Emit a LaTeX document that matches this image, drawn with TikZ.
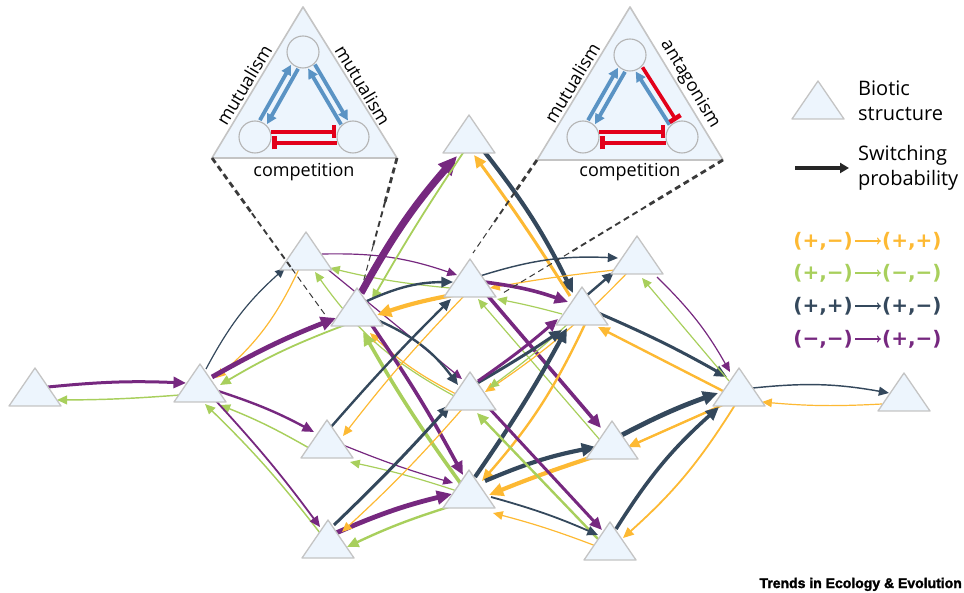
\documentclass[tikz,border=0pt]{standalone}
\usepackage{fontspec}
\setmainfont{Open Sans}
\newfontfamily\dvb{DejaVu Sans}
\newfontfamily\lib[FakeBold=1.8]{Liberation Sans}
\usetikzlibrary{arrows.meta,calc}
\definecolor{cO}{HTML}{FDB933}
\definecolor{cG}{HTML}{A8CF5C}
\definecolor{cD}{HTML}{34485C}
\definecolor{cP}{HTML}{76287F}
\definecolor{cB}{HTML}{5A93C4}
\definecolor{cR}{HTML}{E2001A}
\definecolor{triF}{HTML}{EDF5FD}
\definecolor{triB}{HTML}{C4C4C4}
\definecolor{cirB}{HTML}{B4B4B4}
\definecolor{dashC}{HTML}{3A3A3A}
\newcommand{\lgrow}[5]{%
  \node[anchor=east,text=#2,font=\dvb\bfseries\fontsize{20}{20}\selectfont,inner sep=0pt] (#5a) at (853,#1) {#3};
  \coordinate (#5b) at (855,#1); \coordinate (#5c) at (881,#1);
  \draw[#2,line width=1.1pt,-{To[length=4pt,width=7pt]}] (#5b) -- (#5c);
  \node[anchor=west,text=#2,font=\dvb\bfseries\fontsize{20}{20}\selectfont,inner sep=0pt] (#5d) at (882,#1) {#4};}
\begin{document}
\begin{tikzpicture}[x=1pt,y=-1pt,
  ar/.style={-{Triangle[length=8pt 1.5,width=7pt 1.35]}},
  eO/.style={draw=cO,line width={1.2*#1pt},ar},
  eG/.style={draw=cG,line width={1.2*#1pt},ar},
  eD/.style={draw=cD,line width={1.2*#1pt},ar},
  eP/.style={draw=cP,line width={1.2*#1pt},ar},
  tri/.pic={\draw[fill=triF,draw=triB,line width=1.3pt,line join=round] (-26,19) -- (0,-19) -- (26,19) -- cycle;},
  circ/.style={fill=triF,draw=cirB,line width=1.1pt},
  ba/.style={draw=cB,line width=3.8pt,-{Triangle[length=10pt,width=10pt]}},
  ra/.style={draw=cR,line width=3.6pt,-{Bar[width=13pt,line width=4.5pt]}},
  lab/.style={font=\fontsize{18}{18}\selectfont,inner sep=0pt},
  dsh/.style={draw=dashC,dash pattern=on 6pt off 4pt}]
\useasboundingbox (0,0) rectangle (964,593);
% node positions
\coordinate (A) at (35,387);
\coordinate (B) at (200,383);
\coordinate (C) at (306,251);
\coordinate (D) at (357,307);
\coordinate (E) at (469,134);
\coordinate (F) at (470,278);
\coordinate (G) at (582,306);
\coordinate (H) at (637,255);
\coordinate (I) at (739,387);
\coordinate (J) at (904,392);
\coordinate (K) at (612,440);
\coordinate (L) at (610,541);
\coordinate (M) at (470,391);
\coordinate (N) at (469,489);
\coordinate (O) at (327,439);
\coordinate (P) at (328,539);
% ---------- edges ----------
\draw[eP=2.5] ($(A)+(13,0)$) to[bend left=4] ($(B)+(-14,0)$);
\draw[eG=1.2] ($(B)+(-20,12)$) to[bend left=2] ($(A)+(22,13)$);
\draw[eD=1] ($(B)+(6,-14)$) to[bend left=10] ($(C)+(-21,17)$);
\draw[eO=1] ($(C)+(-7,18)$) to[bend left=12] ($(B)+(16,-5)$);
\draw[eP=4] ($(B)+(12,-6)$) to[bend left=4] ($(D)+(-21,11)$);
\draw[eG=1.5] ($(D)+(-12,18)$) to[bend right=5] ($(B)+(20,2)$);
\draw[eP=2] ($(B)+(18,8)$) to[bend left=5] ($(O)+(-13,-7)$);
\draw[eG=1.2] ($(O)+(-18,9)$) to[bend right=4] ($(B)+(20,22)$);
\draw[eG=1.2] ($(P)+(-8,-6)$) to[bend right=4] ($(B)+(5,21)$);
\draw[eP=1.5] ($(B)+(16,18)$) to[bend left=3] ($(P)+(-8,-12)$);
\draw[eP=1] ($(C)+(16,3)$) to[bend left=10] ($(F)+(-13,-3)$);
\draw[eG=1] ($(F)+(-20,10)$) to[bend left=4] ($(C)+(24,17)$);
\draw[eP=1] ($(C)+(20,17)$) to ($(M)+(-8,-12)$);
\draw[eG=1] ($(M)+(-14,6)$) to[bend left=13] ($(C)+(9,21)$);
\draw[eO=1] ($(M)+(-14,3)$) to[bend left=8] ($(D)+(13,26)$);
\draw[eP=6] ($(D)+(4,-14)$) to[bend left=6] ($(E)+(-12,22)$);
\draw[eG=1.5] ($(E)+(-4,16)$) to[bend right=2] ($(D)+(15,-7)$);
\draw[eD=2] ($(D)+(10,-6)$) to[bend left=12] ($(F)+(-17,4)$);
\draw[eO=3.5] ($(F)+(-12,16)$) to[bend right=4] ($(D)+(20,8)$);
\draw[eD=2] ($(D)+(18,12)$) to[bend left=15] ($(M)+(-12,-6)$);
\draw[eP=3] ($(D)+(12,14)$) to[bend left=3] ($(N)+(-6,-14)$);
\draw[eG=3] ($(N)+(-8,-5)$) to[bend left=3] ($(D)+(6,25)$);
\draw[eD=3.5] ($(E)+(14,16)$) to[bend left=6] ($(G)+(-9,-13)$);
\draw[eO=2.5] ($(G)+(-12,-10)$) to[bend right=2] ($(E)+(5,21)$);
\draw[eD=1.2] ($(F)+(10,-2)$) to[bend left=10] ($(H)+(-19,3)$);
\draw[eO=1] ($(H)+(-22,15)$) to[bend right=2] ($(F)+(20,10)$);
\draw[eP=3] ($(F)+(14,4)$) to[bend left=6] ($(G)+(-14,-4)$);
\draw[eG=1] ($(G)+(-20,8)$) to[bend right=2] ($(F)+(27,21)$);
\draw[eO=1] ($(F)+(-6,18)$) to[bend right=3] ($(O)+(16,-3)$);
\draw[eD=2] ($(O)+(4,-12)$) to[bend left=2] ($(F)+(-19,21)$);
\draw[eP=3] ($(F)+(18,18)$) to ($(K)+(-11,-12)$);
\draw[eG=1] ($(K)+(-12,0)$) to ($(F)+(8,21)$);
\draw[eD=2] ($(G)+(4,-10)$) to ($(H)+(-23,17)$);
\draw[eO=1] ($(H)+(-8,16)$) to[bend left=6] ($(M)+(15,1)$);
\draw[eG=1] ($(G)+(-12,16)$) to[bend left=3] ($(M)+(19,-3)$);
\draw[eD=2.5] ($(M)+(4,-6)$) to[bend right=2] ($(G)+(-20,24)$);
\draw[eP=2.5] ($(M)+(8,-10)$) to[bend right=3] ($(G)+(-24,13)$);
\draw[eO=2] ($(G)+(4,16)$) to[bend left=8] ($(N)+(13,-8)$);
\draw[eD=3.5] ($(N)+(6,-12)$) to[bend right=3] ($(G)+(-15,22)$);
\draw[eD=2.5] ($(G)+(14,6)$) to[bend left=3] ($(I)+(-12,-10)$);
\draw[eO=2] ($(I)+(-16,4)$) to ($(G)+(16,21)$);
\draw[eG=1] ($(I)+(-10,-6)$) to ($(H)+(5,23)$);
\draw[eP=1] ($(H)+(20,22)$) to[bend left=8] ($(I)+(-9,-15)$);
\draw[eD=1.2] ($(I)+(14,1)$) to[bend left=8] ($(J)+(-15,1)$);
\draw[eO=1] ($(J)+(-22,12)$) to[bend left=4] ($(I)+(23,15)$);
\draw[eD=4] ($(K)+(8,-4)$) to[bend left=4] ($(I)+(-21,6)$);
\draw[eO=2] ($(I)+(-12,16)$) to ($(K)+(16,7)$);
\draw[eD=3] ($(L)+(6,-12)$) to[bend left=8] ($(I)+(-20,20)$);
\draw[eO=1.5] ($(I)+(-4,18)$) to[bend left=8] ($(L)+(13,-3)$);
\draw[eD=3.5] ($(N)+(16,-8)$) to[bend left=6] ($(K)+(-16,7)$);
\draw[eO=3.5] ($(K)+(-16,16)$) to[bend right=2] ($(N)+(20,6)$);
\draw[eP=2.5] ($(M)+(18,16)$) to ($(L)+(-8,-11)$);
\draw[eG=2] ($(L)+(-12,-2)$) to ($(M)+(7,22)$);
\draw[eD=1.5] ($(N)+(22,8)$) to[bend left=4] ($(L)+(-12,-6)$);
\draw[eO=1] ($(L)+(-14,5)$) to[bend right=3] ($(N)+(24,24)$);
\draw[eP=1] ($(O)+(16,6)$) to[bend right=3] ($(N)+(-16,-6)$);
\draw[eG=1] ($(N)+(-12,2)$) to[bend right=3] ($(O)+(23,23)$);
\draw[eP=4] ($(P)+(8,-6)$) to[bend left=5] ($(N)+(-17,5)$);
\draw[eG=2] ($(N)+(-14,16)$) to[bend right=4] ($(P)+(19,8)$);
\draw[eD=2.5] ($(P)+(6,-14)$) to[bend right=2] ($(M)+(-20,14)$);
\draw[eO=1] ($(M)+(-6,16)$) to[bend left=3] ($(P)+(14,-7)$);
% ---------- triangles ----------
\foreach \n in {A,B,C,D,E,F,G,H,I,J,K,L,M,N,O,P} {\pic at (\n) {tri};}
% ---------- insets ----------
\coordinate (LIl) at (212,158); \coordinate (LIt) at (303,7); \coordinate (LIr) at (397,158);
\draw[fill=triF,draw=triB,line width=1.6pt,line join=round] (LIl) -- (LIt) -- (LIr) -- cycle;
\coordinate (L1) at (303,52);
\coordinate (L2) at (255,137);
\coordinate (L3) at (353,137);
\foreach \c in {L1,L2,L3} {\draw[circ] (\c) circle[radius=16];}
\draw[ba] ($(L2)+(4.9,-16.8)$) -- ($(L1)+(-11.9,12.8)$);
\draw[ba] ($(L1)+(-4.9,16.8)$) -- ($(L2)+(11.9,-12.8)$);
\draw[ba] ($(L3)+(-11.9,-12.5)$) -- ($(L1)+(5.1,16.5)$);
\draw[ba] ($(L1)+(11.9,12.5)$) -- ($(L3)+(-5.1,-16.5)$);
\draw[ra] ($(L2)+(16,-5)$) -- ($(L3)+(-17,-5)$);
\draw[ra] ($(L3)+(-16,6)$) -- ($(L2)+(17,6)$);
\node[lab,rotate=59] (lt1) at (244,85) {mutualism};
\node[lab,rotate=-59] (lt2) at (363,85) {mutualism};
\node[lab] (lt3) at (304,172) {competition};
\coordinate (RIl) at (537,160); \coordinate (RIt) at (630,7); \coordinate (RIr) at (723,160);
\draw[fill=triF,draw=triB,line width=1.6pt,line join=round] (RIl) -- (RIt) -- (RIr) -- cycle;
\coordinate (R1) at (630,55);
\coordinate (R2) at (583,137);
\coordinate (R3) at (682,137);
\foreach \c in {R1,R2,R3} {\draw[circ] (\c) circle[radius=16];}
\draw[ba] ($(R2)+(5,-16.8)$) -- ($(R1)+(-12,12.8)$);
\draw[ba] ($(R1)+(-5,16.8)$) -- ($(R2)+(12,-12.8)$);
\draw[ba] ($(R3)+(-12.5,-12.3)$) -- ($(R1)+(5.7,16.5)$);
\draw[ra] ($(R1)+(12.5,12.3)$) -- ($(R3)+(-5.7,-16.5)$);
\draw[ra] ($(R2)+(16,-5)$) -- ($(R3)+(-17,-5)$);
\draw[ra] ($(R3)+(-16,6)$) -- ($(R2)+(17,6)$);
\node[lab,rotate=59] (rt1) at (572,83) {mutualism};
\node[lab,rotate=-59] (rt2) at (690,84) {antagonism};
\node[lab] (rt3) at (630,172) {competition};
% ---------- dashed zoom lines ----------
\coordinate (zD1) at ($(D)+(-31,9)$);
\coordinate (zD2) at ($(D)+(6,-24)$);
\coordinate (zF1) at ($(F)+(3,-25)$);
\coordinate (zF2) at ($(F)+(33,15)$);
\foreach \a/\b in {LIl/zD1, LIr/zD2, RIl/zF1, RIr/zF2} {
  \draw[dsh,line width=2.8pt] (\a) -- ($(\a)!0.35!(\b)$);
  \draw[dsh,line width=1.9pt] ($(\a)!0.35!(\b)$) -- ($(\a)!0.7!(\b)$);
  \draw[dsh,line width=1pt] ($(\a)!0.7!(\b)$) -- (\b);
}
% ---------- legend ----------
\coordinate (lgT) at (818,100);
\pic at (lgT) {tri};
\node[anchor=west,align=left,font=\fontsize{20}{25}\selectfont,inner sep=0pt] (lg1) at (858,101) {Biotic\\structure};
\coordinate (la1) at (795,168); \coordinate (la2) at (849,168);
\draw[line width=3.5pt,draw=black!85,-{Triangle[length=9pt,width=10pt]}] (la1) -- (la2);
\node[anchor=west,align=left,font=\fontsize{20}{25}\selectfont,inner sep=0pt] (lg2) at (858,168) {Switching\\probability};
\lgrow{241}{cO}{(+,−)}{(+,+)}{ra}
\lgrow{273}{cG}{(+,−)}{(−,−)}{rb}
\lgrow{306}{cD}{(+,+)}{(+,−)}{rc}
\lgrow{339}{cP}{(−,−)}{(+,−)}{rd}
\node[anchor=base east,font=\lib\bfseries\fontsize{14}{14}\selectfont,inner sep=0pt] (src) at (962,588) {Trends in Ecology \& Evolution};
\end{tikzpicture}
\end{document}
